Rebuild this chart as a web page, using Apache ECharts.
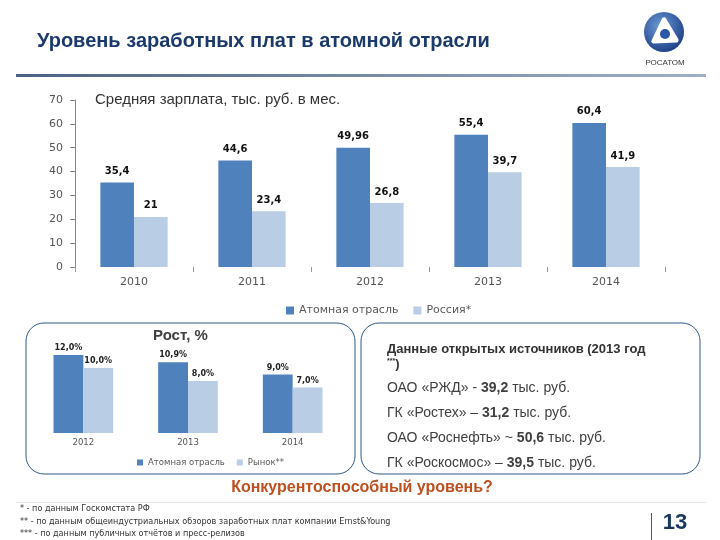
<!DOCTYPE html>
<html>
<head>
<meta charset="utf-8">
<script src="https://cdn.jsdelivr.net/npm/echarts@6/dist/echarts.min.js"></script>
<style>
html,body{margin:0;padding:0;background:#fff;}
#c{width:720px;height:540px;}
</style>
</head>
<body>
<div id="c"></div>
<script>
// ---- data ----
const years = ['2010', '2011', '2012', '2013', '2014'];
const atomWage = [35.4, 44.6, 49.96, 55.4, 60.4];
const russiaWage = [21, 23.4, 26.8, 39.7, 41.9];
const wageAxisMax = 70;
const wageAxisStep = 10;

const growthYears = ['2012', '2013', '2014'];
const atomGrowth = [12.0, 10.9, 9.0];
const marketGrowth = [10.0, 8.0, 7.0];

const seriesNames = ['Атомная отрасль', 'Россия*', 'Рынок**'];

const companies = [
  ['ОАО «РЖД» - ', '39,2', ' тыс. руб.'],
  ['ГК «Ростех» – ', '31,2', ' тыс. руб.'],
  ['ОАО «Роснефть» ~ ', '50,6', ' тыс. руб.'],
  ['ГК «Роскосмос» – ', '39,5', ' тыс. руб.']
];

const footnotes = [
  '* - по данным Госкомстата РФ',
  '** - по данным общеиндустриальных обзоров заработных плат компании Ernst&Young',
  '*** - по данным публичных отчётов и пресс-релизов'
];

const BLUE = '#4f81bd';
const LIGHT = '#b9cde5';
const SANS = '"Liberation Sans", Arial, sans-serif';
const NARROW = '"Liberation Sans Narrow", "DejaVu Sans Condensed", sans-serif';
const VERD = '"DejaVu Sans", Verdana, sans-serif';

const chart = echarts.init(document.getElementById('c'), null, {renderer: 'canvas'});

const graphics = [
  // slide title
  {type: 'text', x: 37, y: 41, style: {text: 'Уровень заработных плат в атомной отрасли', font: 'bold 20px ' + SANS, fill: '#1b3a6b', verticalAlign: 'middle'}},
  // header rule
  {type: 'rect', shape: {x: 16, y: 74, width: 690, height: 3}, style: {fill: new echarts.graphic.LinearGradient(0, 0, 1, 0, [{offset: 0, color: '#4d6283'}, {offset: 1, color: '#9fb0c6'}])}},
  // logo
  {type: 'circle', shape: {cx: 664, cy: 32, r: 20}, style: {fill: new echarts.graphic.RadialGradient(0.4, 0.35, 0.7, [{offset: 0, color: '#6c9ad6'}, {offset: 1, color: '#1c3d86'}])}},
  {type: 'polygon', shape: {points: [[664, 20], [654, 41], [676, 40]]}, style: {fill: '#fff', stroke: '#fff', lineWidth: 5, lineJoin: 'round'}},
  {type: 'circle', shape: {cx: 665, cy: 34, r: 5}, style: {fill: '#2a57a6'}},
  {type: 'text', x: 665, y: 63, style: {text: 'РОСАТОМ', font: '8px ' + SANS, fill: '#333', align: 'center', verticalAlign: 'middle'}},
  // main chart title
  {type: 'text', x: 95, y: 100, style: {text: 'Средняя зарплата, тыс. руб. в мес.', font: '15px ' + SANS, fill: '#333', verticalAlign: 'middle'}},
  // boxes
  {type: 'rect', shape: {x: 26, y: 323, width: 329, height: 151, r: 18}, style: {fill: 'none', stroke: '#2e5a88', lineWidth: 1}},
  {type: 'rect', shape: {x: 361, y: 323, width: 339, height: 151, r: 18}, style: {fill: 'none', stroke: '#2e5a88', lineWidth: 1}},
  // small chart title
  {type: 'text', x: 153, y: 336, style: {text: 'Рост, %', font: 'bold 15px ' + SANS, fill: '#404040', verticalAlign: 'middle'}},
  // right box header
  {type: 'text', x: 387, y: 349, style: {text: 'Данные открытых источников (2013 год', font: 'bold 13px ' + SANS, fill: '#333', verticalAlign: 'middle'}},
  {type: 'text', x: 387, y: 364, style: {text: '{s|***}{b|)}', rich: {s: {font: 'bold 7px ' + SANS, fill: '#333', verticalAlign: 'top'}, b: {font: 'bold 13px ' + SANS, fill: '#333'}}, verticalAlign: 'middle'}},
  // question
  {type: 'text', x: 362, y: 488, style: {text: 'Конкурентоспособный уровень?', font: 'bold 16px ' + SANS, fill: '#bf4f1e', align: 'center', verticalAlign: 'middle'}},
  // separator
  {type: 'rect', shape: {x: 16, y: 502, width: 690, height: 1}, style: {fill: '#e1e6ee'}},
  // page number
  {type: 'rect', shape: {x: 651, y: 513, width: 1, height: 27}, style: {fill: '#555'}},
  {type: 'text', x: 675, y: 523, style: {text: '13', font: 'bold 22px ' + SANS, fill: '#17375e', align: 'center', verticalAlign: 'middle'}}
];

companies.forEach(function (c, i) {
  graphics.push({
    type: 'text', x: 387, y: 388 + i * 25,
    style: {
      text: '{n|' + c[0] + '}{b|' + c[1] + '}{n|' + c[2] + '}',
      rich: {
        n: {font: '14px ' + SANS, fill: '#404040'},
        b: {font: 'bold 14px ' + SANS, fill: '#404040'}
      },
      verticalAlign: 'middle'
    }
  });
});

footnotes.forEach(function (t, i) {
  graphics.push({type: 'text', x: 20, y: 509 + i * 12.5, style: {text: t, font: '9px ' + NARROW, fill: '#333', verticalAlign: 'middle'}});
});

function commaFmt(p) { return String(p.value).replace('.', ','); }
function pctFmt(p) { return p.value.toFixed(1).replace('.', ',') + '%'; }

const option = {
  animation: false,
  backgroundColor: '#fff',
  graphic: graphics,
  legend: [
    {
      data: [seriesNames[0], seriesNames[1]],
      left: 281, top: 300,
      itemWidth: 8, itemHeight: 8, itemGap: 15, icon: 'rect',
      textStyle: {fontSize: 11, color: '#595959', fontFamily: VERD}
    },
    {
      data: [seriesNames[0], seriesNames[2]],
      left: 132, top: 453,
      itemWidth: 6, itemHeight: 6, itemGap: 12, icon: 'rect',
      textStyle: {fontSize: 8.5, color: '#595959', fontFamily: VERD}
    }
  ],
  grid: [
    {left: 75, right: 55, top: 100, bottom: 273, containLabel: false},
    {left: 31, right: 375, top: 342, bottom: 107, containLabel: false}
  ],
  xAxis: [
    {
      type: 'category', data: years, gridIndex: 0,
      axisLine: {show: false},
      axisTick: {show: true, length: 5, lineStyle: {color: '#999'}},
      axisLabel: {fontSize: 11, color: '#555', fontFamily: VERD, margin: 10}
    },
    {
      type: 'category', data: growthYears, gridIndex: 1,
      axisLine: {show: false},
      axisTick: {show: false},
      axisLabel: {fontSize: 8.5, color: '#555', fontFamily: VERD, margin: 5}
    }
  ],
  yAxis: [
    {
      type: 'value', gridIndex: 0, min: 0, max: wageAxisMax, interval: wageAxisStep,
      axisLine: {show: true, lineStyle: {color: '#888'}},
      axisTick: {show: true, length: 5, lineStyle: {color: '#888'}},
      splitLine: {show: false},
      axisLabel: {fontSize: 11, color: '#555', fontFamily: VERD, margin: 12}
    },
    {
      type: 'value', gridIndex: 1, min: 0, max: 14,
      show: false, splitLine: {show: false}
    }
  ],
  series: [
    {
      name: seriesNames[0], type: 'bar', xAxisIndex: 0, yAxisIndex: 0,
      data: atomWage, barGap: '0%', barCategoryGap: '43%',
      itemStyle: {color: BLUE},
      label: {show: true, position: 'top', distance: 6, formatter: commaFmt, fontSize: 10, fontWeight: 'bold', color: '#111', fontFamily: VERD}
    },
    {
      name: seriesNames[1], type: 'bar', xAxisIndex: 0, yAxisIndex: 0,
      data: russiaWage, barGap: '0%', barCategoryGap: '43%',
      itemStyle: {color: LIGHT},
      label: {show: true, position: 'top', distance: 6, formatter: commaFmt, fontSize: 10, fontWeight: 'bold', color: '#111', fontFamily: VERD}
    },
    {
      name: seriesNames[0], type: 'bar', xAxisIndex: 1, yAxisIndex: 1,
      data: atomGrowth, barGap: '0%', barCategoryGap: '43%',
      itemStyle: {color: BLUE},
      label: {show: true, position: 'top', distance: 3, formatter: pctFmt, fontSize: 8, fontWeight: 'bold', color: '#222', fontFamily: VERD}
    },
    {
      name: seriesNames[2], type: 'bar', xAxisIndex: 1, yAxisIndex: 1,
      data: marketGrowth, barGap: '0%', barCategoryGap: '43%',
      itemStyle: {color: LIGHT},
      label: {show: true, position: 'top', distance: 3, formatter: pctFmt, fontSize: 8, fontWeight: 'bold', color: '#222', fontFamily: VERD}
    }
  ]
};

chart.setOption(option);
</script>
</body>
</html>
